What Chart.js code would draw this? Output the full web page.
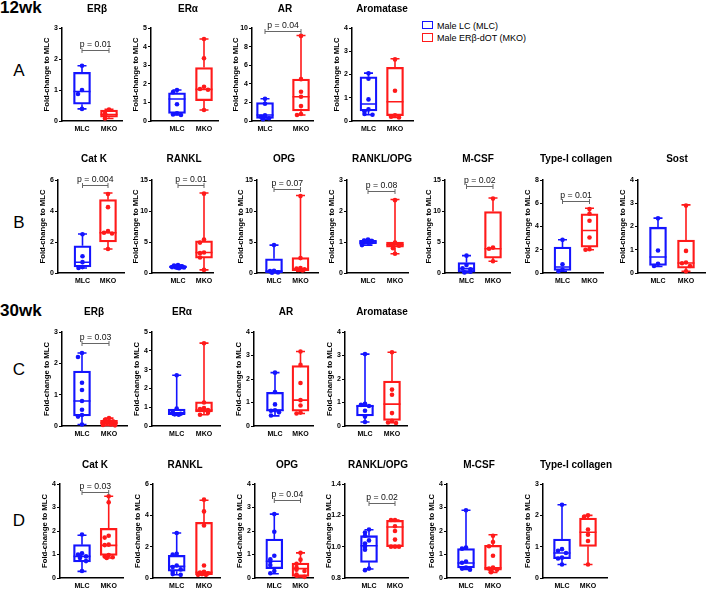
<!DOCTYPE html>
<html>
<head>
<meta charset="utf-8">
<script src="https://cdn.jsdelivr.net/npm/chart.js@4.4.1/dist/chart.umd.min.js"></script>
<style>
    body { margin: 0; background: #fff; }
    #fig { position: relative; width: 709px; height: 591px; overflow: hidden; font-family: 'Liberation Sans', Arial, sans-serif; color: #000; }
    #fig canvas { position: absolute; }
    .lbl { position: absolute; transform: translate(-50%, -50%); white-space: nowrap; }
    .ttl { font-size: 10px; font-weight: bold; }
    .letter { font-size: 17px; }
    .age { position: absolute; transform: translate(0, -50%); font-size: 17px; font-weight: bold; }
    .leg { position: absolute; font-size: 9px; transform: translate(0, -50%); white-space: nowrap; }
    .legbox { position: absolute; width: 9px; height: 6.5px; border: 1.5px solid; }
</style>
</head>
<body>
<div id="fig">
    <div class="age" style="left:0px; top:8px;">12wk</div>
    <div class="age" style="left:0px; top:311px;">30wk</div>
    <div class="lbl letter" style="left:19px; top:71px;">A</div>
    <div class="lbl letter" style="left:19px; top:223px;">B</div>
    <div class="lbl letter" style="left:19px; top:370px;">C</div>
    <div class="lbl letter" style="left:19px; top:521px;">D</div>
    <div class="legbox" style="left:422px; top:20.5px; border-color:#1414ff;"></div>
    <div class="leg" style="left:437px; top:25.5px;">Male LC (MLC)</div>
    <div class="legbox" style="left:422px; top:33.3px; border-color:#ff1a1a;"></div>
    <div class="leg" style="left:437px; top:38px;">Male ERβ-dOT (MKO)</div>
</div>
<script>
// ---- Row A (12wk) ----
const genesA = ['ERβ', 'ERα', 'AR', 'Aromatase'];
const yMinA = [0, 0, 0, 0];
const yMaxA = [3, 5, 10, 4];
const yStepA = [1, 1, 2, 1];
// [min, q1, median, q3, max]
const mlcBoxA = [[0.39, 0.54, 0.95, 1.57, 1.78], [0.32, 0.41, 1.18, 1.52, 1.67], [0.2, 0.29, 0.65, 1.97, 2.4], [0.27, 0.43, 0.73, 1.9, 2.06]];
const mkoBoxA = [[0.08, 0.12, 0.21, 0.35, 0.38], [0.59, 1.09, 1.7, 2.87, 4.41], [0.65, 1.08, 2.61, 4.52, 9.2], [0.15, 0.23, 0.83, 2.31, 2.68]];
const mlcPtsA = [[1.78, 1.0, 0.87, 0.39], [1.67, 1.55, 0.9, 0.42, 0.35, 0.32], [2.4, 1.85, 0.6, 0.45, 0.3, 0.2], [2.05, 1.82, 0.93, 0.5, 0.42, 0.3, 0.27]];
const mkoPtsA = [[0.37, 0.25, 0.17, 0.08], [4.41, 3.37, 1.84, 1.72, 1.68, 0.59], [9.15, 4.5, 3.15, 2.6, 1.6, 0.75, 0.65], [2.65, 1.3, 0.25, 0.18, 0.15]];
const pTextA = ['p = 0.01', null, 'p = 0.04', null];

// ---- Row B (12wk) ----
const genesB = ['Cat K', 'RANKL', 'OPG', 'RANKL/OPG', 'M-CSF', 'Type-I collagen', 'Sost'];
const yMinB = [0, 0, 0, 0, 0, 0, 0];
const yMaxB = [6, 15, 15, 3, 15, 8, 4];
const yStepB = [2, 5, 5, 1, 5, 2, 1];
const mlcBoxB = [[0.32, 0.39, 0.69, 1.76, 2.52], [0.75, 0.85, 1.0, 1.15, 1.3], [0.05, 0.06, 0.3, 2.3, 4.5], [0.9, 0.95, 1.0, 1.05, 1.08],
    [0.1, 0.15, 0.7, 1.68, 2.8], [0.15, 0.22, 0.51, 2.23, 2.86], [0.28, 0.33, 0.69, 1.97, 2.36]];
const mkoBoxB = [[1.55, 2.0, 2.6, 4.73, 5.16], [0.5, 2.4, 3.3, 5.2, 12.9], [0.3, 0.38, 0.65, 2.5, 12.5], [0.62, 0.83, 0.91, 1.0, 2.37],
    [1.9, 2.4, 3.9, 9.9, 12.1], [2.0, 2.23, 3.65, 5.09, 5.57], [0.07, 0.21, 0.43, 1.42, 2.93]];
const mlcPtsB = [[2.5, 1.08, 0.7, 0.38, 0.33], [1.3, 1.2, 1.1, 1.02, 1.0, 0.95, 0.9, 0.85, 0.78], [4.5, 0.35, 0.3, 0.1, 0.05],
    [1.08, 1.05, 1.03, 1.0, 0.98, 0.95, 0.92, 0.9], [2.8, 1.3, 0.75, 0.6, 0.2, 0.1], [2.85, 0.75, 0.3, 0.15], [2.35, 0.97, 0.4, 0.3]];
const mkoPtsB = [[5.1, 4.25, 2.7, 2.6, 2.55, 1.55], [12.8, 5.4, 4.9, 3.3, 3.2, 2.5, 0.5], [12.4, 2.4, 0.8, 0.7, 0.6, 0.5, 0.4],
    [2.35, 0.98, 0.92, 0.88, 0.85, 0.8, 0.62], [12.0, 4.1, 3.9, 1.9], [5.5, 5.1, 4.5, 3.05, 2.05, 2.0], [2.9, 0.95, 0.45, 0.42, 0.3, 0.07]];
const pTextB = ['p = 0.004', 'p = 0.01', 'p = 0.07', 'p = 0.08', 'p = 0.02', 'p = 0.01', null];

// ---- Row C (30wk) ----
const genesC = ['ERβ', 'ERα', 'AR', 'Aromatase'];
const yMinC = [0, 0, 0, 0];
const yMaxC = [3, 5, 4, 4];
const yStepC = [1, 1, 1, 1];
const mlcBoxC = [[0.05, 0.32, 0.8, 1.75, 2.33], [0.58, 0.6, 0.7, 0.9, 2.7], [0.43, 0.63, 0.67, 1.43, 2.27], [0.17, 0.43, 0.84, 0.89, 3.06]];
const mkoBoxC = [[0.02, 0.05, 0.1, 0.18, 0.25], [0.6, 0.75, 0.85, 1.28, 4.41], [0.53, 0.63, 1.1, 2.57, 3.17], [0.14, 0.24, 0.93, 1.91, 3.14]];
const mlcPtsC = [[2.33, 2.2, 1.38, 1.15, 0.8, 0.52, 0.35, 0.3, 0.05], [2.7, 0.93, 0.75, 0.68, 0.65, 0.62, 0.6],
    [2.27, 1.45, 0.92, 0.67, 0.65, 0.58, 0.45], [3.06, 0.95, 0.9, 0.85, 0.65, 0.4, 0.17]];
const mkoPtsC = [[0.25, 0.2, 0.15, 0.12, 0.1, 0.08, 0.05, 0.03, 0.02], [4.4, 1.25, 0.95, 0.9, 0.85, 0.7, 0.6],
    [3.17, 2.6, 1.83, 1.1, 0.87, 0.57, 0.53], [3.14, 1.55, 1.33, 0.55, 0.22, 0.15, 0.13]];
const pTextC = ['p = 0.03', null, null, null];

// ---- Row D (30wk) ----
const genesD = ['Cat K', 'RANKL', 'OPG', 'RANKL/OPG', 'M-CSF', 'Type-I collagen'];
const yMinD = [0, 0, 0, 0.8, 0, 0];
const yMaxD = [4, 6, 4, 1.4, 4, 3];
const yStepD = [1, 2, 1, 0.2, 1, 1];
const mlcBoxD = [[0.28, 0.68, 0.92, 1.42, 1.82], [0.21, 0.43, 0.74, 1.45, 2.87], [0.18, 0.4, 0.71, 1.66, 2.72],
    [0.857, 0.9, 1.006, 1.07, 1.108], [0.36, 0.43, 0.64, 1.25, 2.88], [0.43, 0.62, 0.8, 1.24, 2.34]];
const mkoBoxD = [[0.85, 0.96, 1.39, 2.11, 3.48], [0.2, 0.21, 0.36, 3.55, 4.96], [0.05, 0.07, 0.4, 0.64, 1.07],
    [1.0, 1.0, 1.126, 1.168, 1.17], [0.24, 0.33, 0.43, 1.39, 1.84], [0.43, 1.01, 1.46, 1.91, 2.0]];
const mlcPtsD = [[1.85, 1.05, 1.0, 0.92, 0.9, 0.85, 0.72, 0.3], [2.87, 1.55, 1.5, 0.8, 0.7, 0.55, 0.4, 0.25, 0.2],
    [2.72, 1.97, 0.95, 0.8, 0.7, 0.55, 0.3, 0.2], [1.11, 1.09, 1.07, 1.04, 1.02, 1.0, 0.98, 0.86, 0.85],
    [2.88, 1.3, 1.25, 0.7, 0.65, 0.45, 0.4, 0.35], [2.34, 0.92, 0.87, 0.8, 0.65, 0.62, 0.43]];
const mkoPtsD = [[3.48, 3.22, 1.8, 1.72, 1.42, 1.4, 0.98, 0.92, 0.88, 0.85], [5.0, 4.25, 3.35, 0.8, 0.4, 0.35, 0.3, 0.25, 0.2, 0.2],
    [1.07, 0.78, 0.6, 0.45, 0.35, 0.3, 0.15, 0.1, 0.05], [1.17, 1.17, 1.13, 1.1, 1.045, 1.0, 1.0, 1.0],
    [1.8, 1.53, 1.35, 0.95, 0.45, 0.4, 0.35, 0.3, 0.25], [2.0, 1.95, 1.55, 1.38, 1.18, 0.43]];
const pTextD = ['p = 0.03', null, 'p = 0.04', 'p = 0.02', null, null];

const groups = ['MLC', 'MKO'];

// Yerleşim (piksel) - veri değil
const layoutA = { top: 28, zero: 121, titleY: 8,
    axisX: [62, 151, 252, 352], endX: [122, 218, 313, 413], c1: [82, 177, 265, 368.5], c2: [109, 204, 301, 395],
    titleX: [97, 188, 285, 382], pY: [2.29, null, 9.7, null] };
const layoutB = { top: 180, zero: 273, titleY: 158,
    axisX: [58, 152, 257, 347, 445, 543, 638], endX: [124, 213, 318, 408, 510, 603, 705],
    c1: [82.5, 178, 274, 368, 466.5, 562.5, 658], c2: [108, 204, 300.5, 395, 493, 589.5, 686],
    titleX: [94, 184, 284, 382, 478, 576, 677], pY: [5.7, 14.2, 13.6, 2.65, 14.1, 6.2, null] };
const layoutC = { top: 332, zero: 426, titleY: 311,
    axisX: [62, 152, 254, 345], endX: [127, 220, 313, 407], c1: [82, 176.7, 275, 365], c2: [109, 204, 300.5, 392],
    titleX: [94, 182, 286, 382], pY: [2.64, null, null, null] };
const layoutD = { top: 484, zero: 578, titleY: 464,
    axisX: [60, 153, 255, 345, 447, 543], endX: [123, 220, 313, 408, 510, 607],
    c1: [82, 176.7, 274.3, 369, 466, 562], c2: [108.7, 204, 300.5, 395, 493, 588],
    titleX: [95, 185, 287, 378, 479, 576], pY: [3.68, null, 3.3, 1.28, null, null] };

const BLUE = '#1414ff', RED = '#ff1a1a';
const FONT = "'Liberation Sans', Arial, sans-serif";
const OFFS = [0, -4, 4, -2, 2, -6, 6, -1, 1];
Chart.defaults.font.family = FONT;

const fig = document.getElementById('fig');

function addTitle(text, x, y) {
    const el = document.createElement('div');
    el.className = 'lbl ttl';
    el.textContent = text;
    el.style.left = x + 'px';
    el.style.top = y + 'px';
    fig.appendChild(el);
}

function makeBoxPlugin(mlc, mko, pText, pY) {
    return {
        id: 'boxWhiskers',
        beforeDatasetsDraw(chart) {
            const { ctx, scales: { x, y } } = chart;
            [mlc, mko].forEach((s, g) => {
                const cx = x.getPixelForValue(g + 1);
                const py = v => y.getPixelForValue(v);
                ctx.save();
                ctx.strokeStyle = g ? RED : BLUE;
                ctx.lineWidth = 1.6;
                ctx.beginPath();
                ctx.moveTo(cx, py(s[0])); ctx.lineTo(cx, py(s[1]));
                ctx.moveTo(cx, py(s[3])); ctx.lineTo(cx, py(s[4]));
                ctx.moveTo(cx - 4.5, py(s[0])); ctx.lineTo(cx + 4.5, py(s[0]));
                ctx.moveTo(cx - 4.5, py(s[4])); ctx.lineTo(cx + 4.5, py(s[4]));
                ctx.moveTo(cx - 8.5, py(s[2])); ctx.lineTo(cx + 8.5, py(s[2]));
                ctx.stroke();
                ctx.restore();
            });
        },
        afterDraw(chart) {
            if (!pText) return;
            const { ctx, scales: { x, y } } = chart;
            const x1 = x.getPixelForValue(1), x2 = x.getPixelForValue(2);
            const by = Math.round(y.getPixelForValue(pY)) + 0.5;
            ctx.save();
            ctx.strokeStyle = '#666';
            ctx.lineWidth = 1;
            ctx.beginPath();
            ctx.moveTo(x1, by); ctx.lineTo(x2, by);
            ctx.moveTo(x1, by - 2.5); ctx.lineTo(x1, by + 2.5);
            ctx.moveTo(x2, by - 2.5); ctx.lineTo(x2, by + 2.5);
            ctx.stroke();
            ctx.fillStyle = '#111';
            ctx.font = '8.7px ' + FONT;
            ctx.textAlign = 'center';
            ctx.textBaseline = 'alphabetic';
            ctx.fillText(pText, (x1 + x2) / 2, by - 4);
            ctx.restore();
        }
    };
}

function buildRow(genes, yMin, yMax, yStep, mlcBox, mkoBox, mlcPts, mkoPts, pText, L) {
    genes.forEach((gene, i) => {
        const axisX = L.axisX[i], endX = L.endX[i], c1 = L.c1[i], c2 = L.c2[i];
        const d = c2 - c1;
        const twoDigit = yMax[i] >= 10 || yStep[i] < 1;
        const yW = twoDigit ? 20 : 19, T = 30, XH = 16, R = 12;
        const W = endX - axisX, H = L.zero - L.top;

        const cv = document.createElement('canvas');
        cv.width = yW + W + R;
        cv.height = T + H + XH;
        cv.style.left = (axisX - yW) + 'px';
        cv.style.top = (L.top - T) + 'px';
        fig.appendChild(cv);
        addTitle(gene, L.titleX[i], L.titleY);

        // noktalar: yakın değerleri yana kaydır
        const pxPer = H / (yMax[i] - yMin[i]);
        const pts = [], cols = [];
        [mlcPts[i], mkoPts[i]].forEach((vals, g) => {
            const placed = [];
            vals.forEach(v => {
                const near = placed.filter(u => Math.abs(u - v) * pxPer < 4.5).length;
                placed.push(v);
                pts.push({ x: g + 1 + OFFS[near % OFFS.length] / d, y: v });
                cols.push(g ? RED : BLUE);
            });
        });

        const decimals = yStep[i] < 1 ? 1 : 0;

        new Chart(cv.getContext('2d'), {
            type: 'bar',
            data: {
                datasets: [
                    {
                        type: 'bar',
                        data: [{ x: 1, y: [mlcBox[i][1], mlcBox[i][3]] }, { x: 2, y: [mkoBox[i][1], mkoBox[i][3]] }],
                        backgroundColor: 'rgba(0,0,0,0)',
                        borderColor: [BLUE, RED],
                        borderWidth: 1.6,
                        borderSkipped: false,
                        barThickness: 17,
                        order: 2
                    },
                    {
                        type: 'scatter',
                        data: pts,
                        pointBackgroundColor: cols,
                        pointBorderColor: cols,
                        pointBorderWidth: 0,
                        pointRadius: 2.3,
                        clip: false,
                        order: 1
                    }
                ]
            },
            options: {
                responsive: false,
                animation: false,
                devicePixelRatio: 1,
                events: [],
                layout: { padding: { top: T, right: R, left: 0, bottom: 0 } },
                plugins: { legend: { display: false }, tooltip: { enabled: false } },
                scales: {
                    x: {
                        type: 'linear',
                        offset: false,
                        min: 1 - (c1 - axisX) / d,
                        max: 2 + (endX - c2) / d,
                        afterBuildTicks: s => { s.ticks = [{ value: 1 }, { value: 2 }]; },
                        afterFit: s => { s.height = XH; },
                        ticks: {
                            callback: (v, idx) => groups[idx],
                            color: '#000',
                            font: { size: 7, weight: 'bold' },
                            padding: 4,
                            maxRotation: 0,
                            autoSkip: false
                        },
                        grid: { display: true, offset: false, drawOnChartArea: false, drawTicks: false },
                        border: { color: '#000', width: 1.5 }
                    },
                    y: {
                        min: yMin[i],
                        max: yMax[i],
                        afterFit: s => { s.width = yW; },
                        ticks: {
                            stepSize: yStep[i],
                            color: '#000',
                            font: { size: 7, weight: 'bold' },
                            padding: 1,
                            callback: v => Number(v).toFixed(decimals)
                        },
                        grid: { display: true, drawOnChartArea: false, drawTicks: true, tickLength: 3, tickColor: '#000', tickWidth: 1.2, color: '#000' },
                        border: { color: '#000', width: 1.5 },
                        title: {
                            display: true,
                            text: 'Fold-change to MLC',
                            color: '#000',
                            font: { size: 7.7, weight: 'bold', lineHeight: 1 },
                            padding: 0
                        }
                    }
                }
            },
            plugins: [makeBoxPlugin(mlcBox[i], mkoBox[i], pText[i], L.pY[i])]
        });
    });
}

buildRow(genesA, yMinA, yMaxA, yStepA, mlcBoxA, mkoBoxA, mlcPtsA, mkoPtsA, pTextA, layoutA);
buildRow(genesB, yMinB, yMaxB, yStepB, mlcBoxB, mkoBoxB, mlcPtsB, mkoPtsB, pTextB, layoutB);
buildRow(genesC, yMinC, yMaxC, yStepC, mlcBoxC, mkoBoxC, mlcPtsC, mkoPtsC, pTextC, layoutC);
buildRow(genesD, yMinD, yMaxD, yStepD, mlcBoxD, mkoBoxD, mlcPtsD, mkoPtsD, pTextD, layoutD);
</script>
</body>
</html>
